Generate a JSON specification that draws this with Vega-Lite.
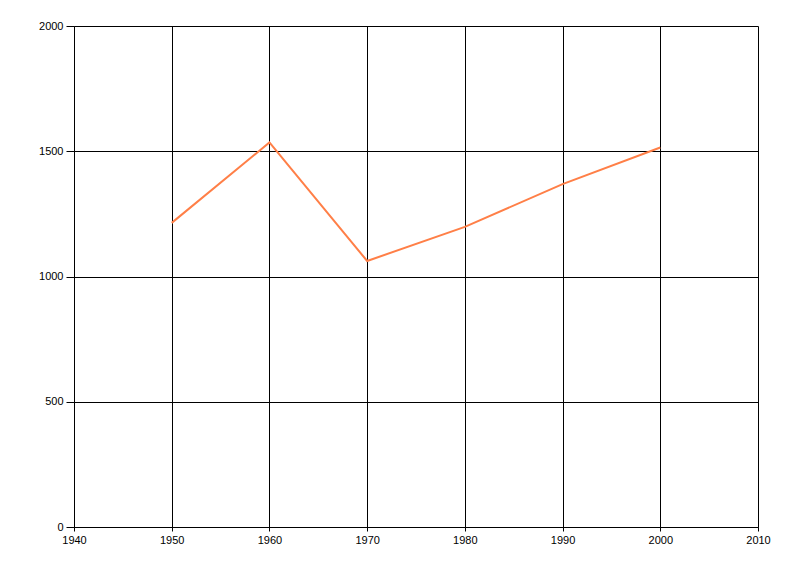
{
  "$schema": "https://vega.github.io/schema/vega-lite/v6.json",
  "autosize": "none",
  "width": 684,
  "height": 501,
  "padding": {"left": 74, "top": 26, "right": 42, "bottom": 49},
  "background": "white",
  "config": {
    "view": {"stroke": null},
    "axis": {
      "labelFont": "Liberation Sans",
      "labelFontSize": 11,
      "labelColor": "#000000",
      "domainColor": "#000000",
      "domainWidth": 1,
      "gridColor": "#000000",
      "gridOpacity": 1,
      "gridWidth": 1,
      "tickColor": "#000000",
      "title": null
    }
  },
  "data": {
    "values": [
      {"year": 1950, "value": 1214},
      {"year": 1960, "value": 1535},
      {"year": 1970, "value": 1062},
      {"year": 1980, "value": 1198},
      {"year": 1990, "value": 1369},
      {"year": 2000, "value": 1515}
    ]
  },
  "mark": {"type": "line", "color": "#FF7F47", "strokeWidth": 2},
  "encoding": {
    "x": {
      "field": "year",
      "type": "quantitative",
      "scale": {"domain": [1940, 2010], "nice": false, "zero": false},
      "axis": {"values": [1940, 1950, 1960, 1970, 1980, 1990, 2000, 2010], "format": "d", "grid": true, "tickSize": 4, "labelPadding": 3, "labelFlush": false}
    },
    "y": {
      "field": "value",
      "type": "quantitative",
      "scale": {"domain": [0, 2000], "nice": false},
      "axis": {"values": [0, 500, 1000, 1500, 2000], "format": "d", "grid": true, "tickSize": 8, "labelPadding": 3, "labelFlush": false}
    }
  }
}
